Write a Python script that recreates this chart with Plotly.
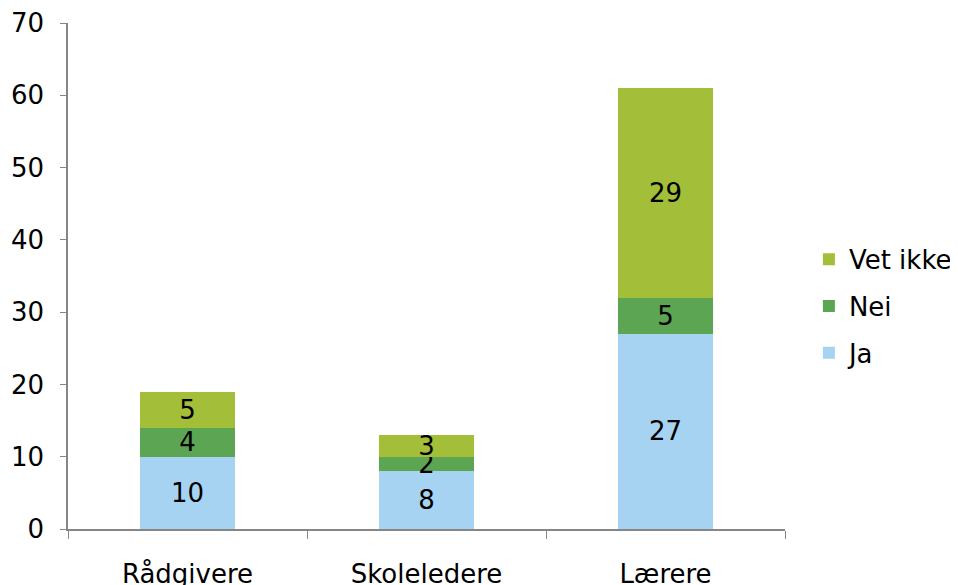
import plotly.graph_objects as go

categories = ["Rådgivere", "Skoleledere", "Lærere"]
ja = [10, 8, 27]
nei = [4, 2, 5]
vet_ikke = [5, 3, 29]
y_ticks = [0, 10, 20, 30, 40, 50, 60, 70]

series = [
    ("Ja", ja, "#A7D3F3", 3),
    ("Nei", nei, "#5CA552", 2),
    ("Vet ikke", vet_ikke, "#A3BE38", 1),
]

FONT = "DejaVu Sans, Verdana, sans-serif"
FS = 26

fig = go.Figure()
for name, vals, color, rank in series:
    fig.add_trace(go.Bar(
        x=categories, y=vals, name=name, marker_color=color,
        marker_line_width=0,
        text=[str(v) for v in vals], textposition="inside",
        insidetextanchor="middle", constraintext="none", textangle=0,
        textfont=dict(family=FONT, size=FS, color="black"),
        legendgroup=name, legendrank=rank,
    ))

fig.update_layout(
    barmode="stack",
    bargap=0.6,
    width=958, height=585,
    margin=dict(l=60, r=181, t=15, b=64),
    plot_bgcolor="white", paper_bgcolor="white",
    font=dict(family=FONT, size=FS, color="black"),
    showlegend=True,
    legend=dict(
        traceorder="grouped",
        tracegroupgap=10,
        xref="container", yref="paper",
        x=0.836, xanchor="left", y=0.44, yanchor="middle",
        font=dict(family=FONT, size=FS, color="black"),
        itemwidth=30,
    ),
    uniformtext=dict(mode=False),
)
fig.update_xaxes(
    showline=True, linecolor="#868686", linewidth=1.5,
    ticks="outside", tickson="boundaries", ticklen=8, tickcolor="#868686",
    tickfont=dict(family=FONT, size=FS, color="black"),
    ticklabelstandoff=21, automargin=False,
    showgrid=False,
)
fig.update_yaxes(
    range=[0, 70], tickvals=y_ticks,
    showline=True, linecolor="#868686", linewidth=1.5,
    ticks="outside", ticklen=6, tickcolor="#868686",
    tickfont=dict(family=FONT, size=FS, color="black"),
    ticklabelstandoff=11, automargin=False,
    showgrid=False, zeroline=False,
)

fig.write_html("out.html")
